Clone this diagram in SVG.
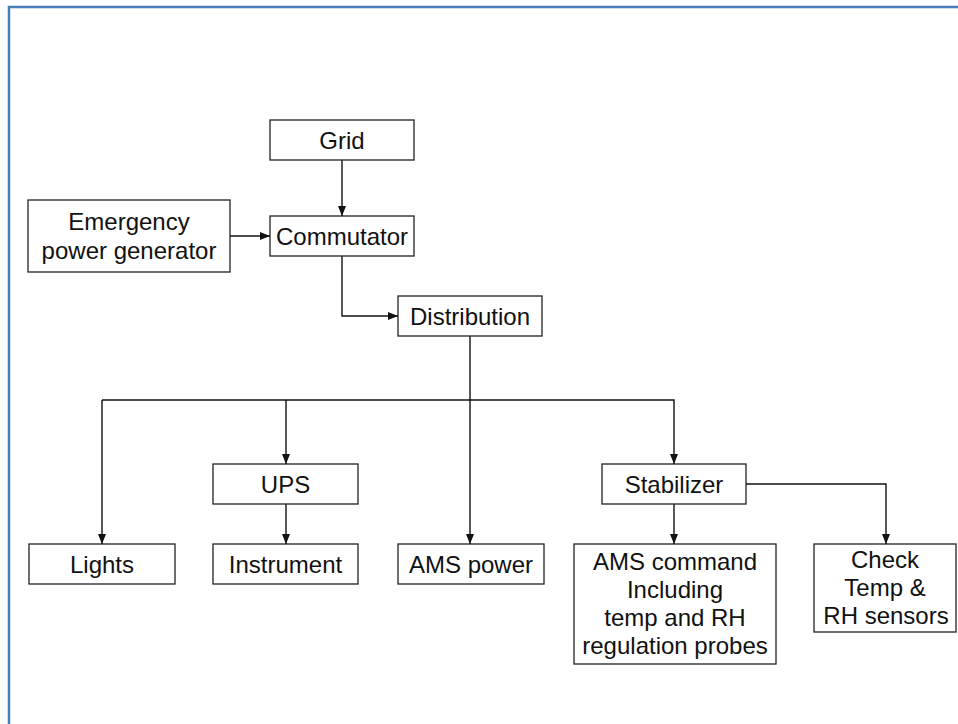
<svg xmlns="http://www.w3.org/2000/svg" width="958" height="724" viewBox="0 0 958 724">
<style>
.box{fill:#fff;stroke:#222;stroke-width:1.3}
.lbl{font-family:"Liberation Sans",Arial,sans-serif;font-size:24px;fill:#111;text-anchor:middle}
.wire{fill:none;stroke:#111;stroke-width:1.4}
.frame{fill:none;stroke:#4a7ebb;stroke-width:2.5}
</style>
<defs>
<marker id="arr" markerUnits="userSpaceOnUse" markerWidth="10" markerHeight="10" viewBox="0 0 10 10" refX="10" refY="5" orient="auto">
<path d="M0,1 L10,5 L0,9 Z" fill="#111"/>
</marker>
</defs>
<rect width="958" height="724" fill="#fff"/>
<path class="frame" d="M9,724 V7 H958"/>

<g id="connectors">
<path class="wire" d="M342,160 V216" marker-end="url(#arr)"/>
<path class="wire" d="M230,236 H270" marker-end="url(#arr)"/>
<path class="wire" d="M342,256 V316 H398" marker-end="url(#arr)"/>
<path class="wire" d="M470,336 V544" stroke-width="2" marker-end="url(#arr)"/>
<path class="wire" d="M102,400 H674 V464" marker-end="url(#arr)"/>
<path class="wire" d="M102,400 V544" marker-end="url(#arr)"/>
<path class="wire" d="M286,400 V464" marker-end="url(#arr)"/>
<path class="wire" d="M286,504 V544" marker-end="url(#arr)"/>
<path class="wire" d="M674,504 V544" marker-end="url(#arr)"/>
<path class="wire" d="M746,484 H886 V544" marker-end="url(#arr)"/>
</g>

<g id="grid"><rect class="box" x="270" y="120" width="144" height="40"/><text class="lbl" x="342" y="148.5">Grid</text></g>
<g id="commutator"><rect class="box" x="270" y="216" width="144" height="40"/><text class="lbl" x="342" y="244.5">Commutator</text></g>
<g id="emergency"><rect class="box" x="28" y="200" width="202" height="72"/><text class="lbl" x="129" y="230">Emergency</text><text class="lbl" x="129" y="259">power generator</text></g>
<g id="distribution"><rect class="box" x="398" y="296" width="144" height="40"/><text class="lbl" x="470" y="324.5">Distribution</text></g>
<g id="ups"><rect class="box" x="213" y="464" width="145" height="40"/><text class="lbl" x="285.5" y="492.5">UPS</text></g>
<g id="stabilizer"><rect class="box" x="602" y="464" width="144" height="40"/><text class="lbl" x="674" y="492.5">Stabilizer</text></g>
<g id="lights"><rect class="box" x="29" y="544" width="146" height="40"/><text class="lbl" x="102" y="572.5">Lights</text></g>
<g id="instrument"><rect class="box" x="213" y="544" width="145" height="40"/><text class="lbl" x="285.5" y="572.5">Instrument</text></g>
<g id="ams-power"><rect class="box" x="398" y="544" width="146" height="40"/><text class="lbl" x="471" y="572.5">AMS power</text></g>
<g id="ams-command"><rect class="box" x="574" y="544" width="202" height="120"/>
<text class="lbl" x="675" y="570">AMS command</text>
<text class="lbl" x="675" y="598">Including</text>
<text class="lbl" x="675" y="626">temp and RH</text>
<text class="lbl" x="675" y="654">regulation probes</text></g>
<g id="check"><rect class="box" x="814" y="544" width="142" height="88"/>
<text class="lbl" x="885" y="568">Check</text>
<text class="lbl" x="885" y="596">Temp &amp;</text>
<text class="lbl" x="886" y="624">RH sensors</text></g>
</svg>
